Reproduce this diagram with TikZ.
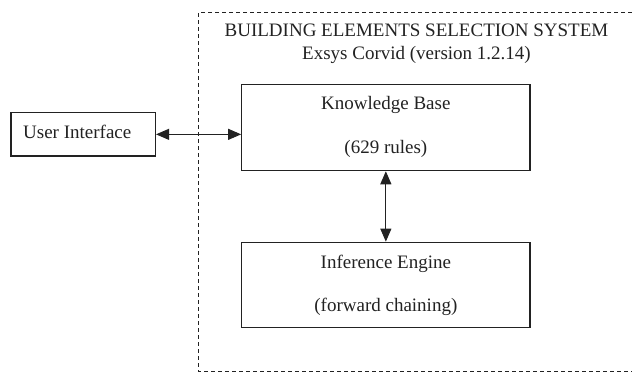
\documentclass[tikz,border=0pt]{standalone}
\usepackage{fontspec}
\setmainfont{Liberation Serif}
\usetikzlibrary{arrows.meta}
\definecolor{ink}{HTML}{222222}
\tikzset{
  box/.style={draw=ink, line width=1.1pt, rectangle, inner sep=0pt},
  txt/.style={anchor=base, inner sep=0pt, text=ink, font=\fontsize{19}{22}\selectfont},
  link/.style={draw=ink, line width=1pt, {Triangle[length=13pt,width=11pt]}-{Triangle[length=13pt,width=11pt]}},
  frame/.style={draw=ink, line width=0.9pt, dash pattern=on 4pt off 3pt}
}
\begin{document}
\begin{tikzpicture}[x=1pt,y=-1pt]
  \useasboundingbox (0,0) rectangle (632,372);

  % dashed boundary of the expert system
  \draw[frame] (632,12.7) -- (198.5,12.7) -- (198.5,371.6) -- (632,371.6);

  % heading
  \node[txt] (title1) at (416.5,36.7) {BUILDING ELEMENTS SELECTION SYSTEM};
  \node[txt] (title2) at (416.5,59.3) {Exsys Corvid (version 1.2.14)};

  % components
  \node[box, minimum width=144.5pt, minimum height=43.3pt] (ui) at (83.25,134.35) {};
  \node[txt, anchor=base west] (uitext) at (23,138) {User Interface};

  \node[box, minimum width=288.3pt, minimum height=86.2pt] (kb) at (385.85,127.6) {};
  \node[txt] (kbname) at (385.85,109.3) {Knowledge Base};
  \node[txt] (kbrules) at (385.85,153) {(629 rules)};

  \node[box, minimum width=288.3pt, minimum height=85.6pt] (ie) at (385.85,285) {};
  \node[txt] (iename) at (385.85,268) {Inference Engine};
  \node[txt] (iemode) at (385.85,311.5) {(forward chaining)};

  % connections
  \draw[link] (ui.east) -- (ui.east -| kb.west);
  \draw[link] (kb.south) -- (ie.north);
\end{tikzpicture}
\end{document}
